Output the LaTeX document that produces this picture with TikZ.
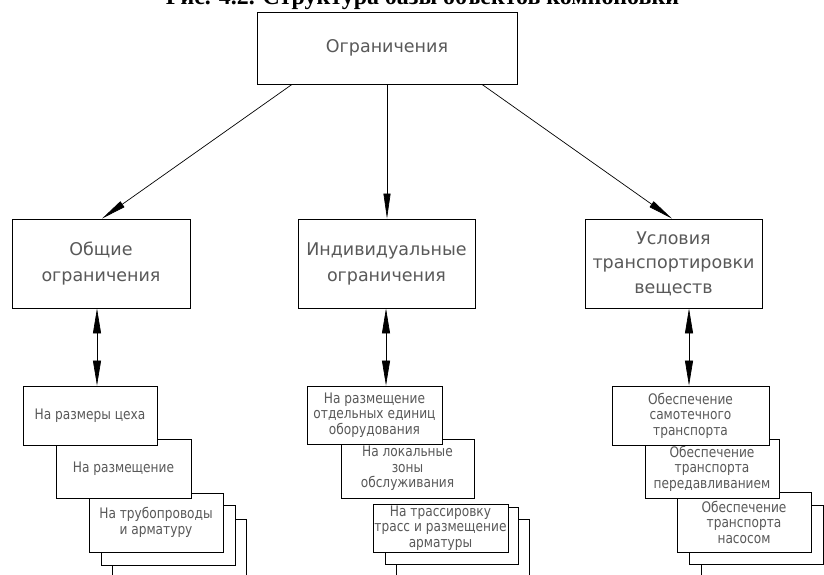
\documentclass[tikz,border=0pt]{standalone}
\usepackage{fontspec}
\usetikzlibrary{arrows.meta}
\newfontfamily\cadfont{DejaVu Sans}
\newfontfamily\cadnarrow[FakeStretch=0.84]{DejaVu Sans}
\newfontfamily\titlefont{Liberation Serif}
\begin{document}
\begin{tikzpicture}[x=1pt,y=-1pt,
  box/.style={draw=black, line width=0.8pt, fill=white, inner sep=0pt, align=center},
  bigtext/.style={font=\cadfont\fontsize{17.5}{26}\selectfont, text=black!65},
  smalltext/.style={font=\cadnarrow\fontsize{14.5}{15.5}\selectfont, text=black!65},
  link/.style={line width=0.7pt, -{Triangle[length=25pt,width=7pt]}},
  dlink/.style={line width=0.7pt, {Triangle[length=25pt,width=8pt]}-{Triangle[length=25pt,width=8pt]}}]
\path[use as bounding box] (0,0) rectangle (824,574);
\clip (0,0) rectangle (824,574);

% title (cut off at the top edge, as in the reference)
\node[anchor=base, inner sep=0pt] (title) at (422.5,4)
  {\resizebox{513pt}{!}{\titlefont\bfseries Рис. 4.2. Структура базы объектов компоновки}};

% top
\node[box, bigtext, minimum width=260pt, minimum height=72pt] (top) at (387,48) {Ограничения};

% second level
\node[box, bigtext, minimum width=178pt, minimum height=89pt] (gl) at (101,263.5) {Общие\\ограничения};
\node[box, bigtext, minimum width=177pt, minimum height=89pt] (gm) at (386.5,263.5) {Индивидуальные\\ограничения};
\node[box, bigtext, minimum width=177pt, minimum height=89pt, font=\cadfont\fontsize{17.5}{24.5}\selectfont] (gr) at (673.5,263.5) {Условия\\транспортировки\\веществ};

% left stack (back to front)
\node[box, minimum width=134pt, minimum height=60pt] (a5) at (179,549) {};
\node[box, minimum width=134pt, minimum height=60pt] (a4) at (168,535) {};
\node[box, smalltext, minimum width=134pt, minimum height=59pt] (a3) at (156,522.5) {На трубопроводы\\и арматуру};
\node[box, smalltext, minimum width=135pt, minimum height=59pt] (a2) at (123.5,468.5) {На размещение};
\node[box, smalltext, minimum width=134pt, minimum height=59pt] (a1) at (90,415.5) {На размеры цеха};

% middle stack
\node[box, minimum width=133pt, minimum height=60pt] (b5) at (462.5,549) {};
\node[box, minimum width=133pt, minimum height=57pt] (b4) at (451.5,535.5) {};
\node[box, smalltext, minimum width=135pt, minimum height=48pt] (b3) at (440.5,528) {На трассировку\\трасс и размещение\\арматуры};
\node[box, smalltext, minimum width=133pt, minimum height=59pt] (b2) at (407.5,468.5) {На локальные\\зоны\\обслуживания};
\node[box, smalltext, minimum width=135pt, minimum height=58pt] (b1) at (374.5,415) {На размещение\\отдельных единиц\\оборудования};

% right stack
\node[box, minimum width=134pt, minimum height=60pt] (c5) at (768,549) {};
\node[box, minimum width=134pt, minimum height=59pt] (c4) at (756,534.5) {};
\node[box, smalltext, minimum width=134pt, minimum height=60pt] (c3) at (744,522) {Обеспечение\\транспорта\\насосом};
\node[box, smalltext, minimum width=134pt, minimum height=59pt] (c2) at (712,468.5) {Обеспечение\\транспорта\\передавливанием};
\node[box, smalltext, minimum width=157pt, minimum height=59pt] (c1) at (690.5,415.5) {Обеспечение\\самотечного\\транспорта};

% connectors
\draw[link] ([xshift=-95pt]top.south) -- ([xshift=1pt]gl.north);
\draw[link] (top.south) -- (top.south |- gm.north);
\draw[link] ([xshift=95pt]top.south) -- ([xshift=-1.5pt]gr.north);

\draw[dlink] ([xshift=-4pt]gl.south) -- ([xshift=-4pt]gl.south |- a1.north);
\draw[dlink] ([xshift=-0.5pt]gm.south) -- ([xshift=-0.5pt]gm.south |- b1.north);
\draw[dlink] ([xshift=15.5pt]gr.south) -- ([xshift=15.5pt]gr.south |- c1.north);
\end{tikzpicture}
\end{document}
